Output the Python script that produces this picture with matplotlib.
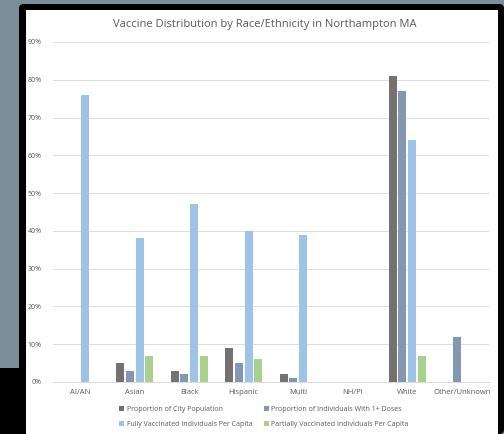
import matplotlib
matplotlib.use("Agg")
import matplotlib.pyplot as plt
from matplotlib.patches import Rectangle, FancyBboxPatch
import numpy as np

categories = ["AI/AN", "Asian", "Black", "Hispanic", "Multi", "NH/PI", "White", "Other/Unknown"]
city_pop = [0, 5, 3, 9, 2, 0, 81, 0]
one_plus = [0, 3, 2, 5, 1, 0, 77, 12]
fully = [76, 38, 47, 40, 39, 0, 64, 0]
partial = [0, 7, 7, 6, 0, 0, 7, 0]
series_names = ["Proportion of City Population", "Proportion of Individuals With 1+ Doses",
                "Fully Vaccinated Individuals Per Capita", "Partially Vaccinated Individuals Per Capita"]
colors = ["#767171", "#8497B0", "#9DC3E6", "#A9D18E"]
yticks = [0, 10, 20, 30, 40, 50, 60, 70, 80, 90]

W, H = 504, 434
fig = plt.figure(figsize=(W/100, H/100), dpi=100)
fig.patch.set_facecolor("#7A8F99")

def fx(x): return x / W
def fy(y): return 1 - y / H

fig.patches.append(FancyBboxPatch((fx(19), 0), fx(504) - fx(19), fy(4), boxstyle="round,pad=0,rounding_size=0.01",
                                  transform=fig.transFigure, facecolor="black", edgecolor="none", zorder=0))
fig.patches.append(Rectangle((0, 0), fx(26), fy(368), transform=fig.transFigure, facecolor="black", edgecolor="none", zorder=0))
fig.patches.append(Rectangle((fx(26), 0), fx(498) - fx(26), fy(10), transform=fig.transFigure, facecolor="white", edgecolor="none", zorder=1))

ax = fig.add_axes([fx(53), fy(382), fx(489) - fx(53), fy(42) - fy(382)])
ax.set_zorder(3)
ax.set_facecolor("none")
x = np.arange(len(categories))
pitch = 0.178
width = 0.148
data = [city_pop, one_plus, fully, partial]
for i, (vals, c, n) in enumerate(zip(data, colors, series_names)):
    ax.bar(x + (i - 1.5) * pitch, np.array(vals) / 100, width=width, color=c, label=n, zorder=3)

ax.set_xlim(-0.5, len(categories) - 0.5)
ax.set_ylim(0, 0.9)
ax.set_yticks([v / 100 for v in yticks])
ax.set_yticklabels([f"{v}%" for v in yticks])
ax.set_xticks(x)
ax.set_xticklabels(categories)
font = "Open Sans"
for lab in ax.get_yticklabels() + ax.get_xticklabels():
    lab.set_fontfamily(font)
    lab.set_color("#595959")
for lab in ax.get_yticklabels():
    lab.set_fontsize(5)
for lab in ax.get_xticklabels():
    lab.set_fontsize(5.5)
ax.tick_params(length=0, pad=8)
ax.tick_params(axis="x", pad=5)
ax.grid(axis="y", color="#DDDDDD", linewidth=0.7, zorder=0)
for s in ["top", "right", "left"]:
    ax.spines[s].set_visible(False)
ax.spines["bottom"].set_color("#D9D9D9")
ax.spines["bottom"].set_linewidth(0.7)

fig.text(fx(265), fy(25), "Vaccine Distribution by Race/Ethnicity in Northampton MA", ha="center", va="center",
         fontsize=8, color="#595959", fontfamily=font, zorder=4)

handles, labels = ax.get_legend_handles_labels()
order = [0, 2, 1, 3]
leg = fig.legend([handles[i] for i in order], [labels[i] for i in order], ncol=2,
                 loc="center left", bbox_to_anchor=(fx(113), fy(417)), frameon=False,
                 prop={"family": font, "size": 5}, labelcolor="#595959",
                 handlelength=0.7, handleheight=0.7, handletextpad=0.4, columnspacing=1.6, labelspacing=1.1)
leg.set_zorder(4)

fig.savefig("out.png", dpi=100, facecolor=fig.get_facecolor())
